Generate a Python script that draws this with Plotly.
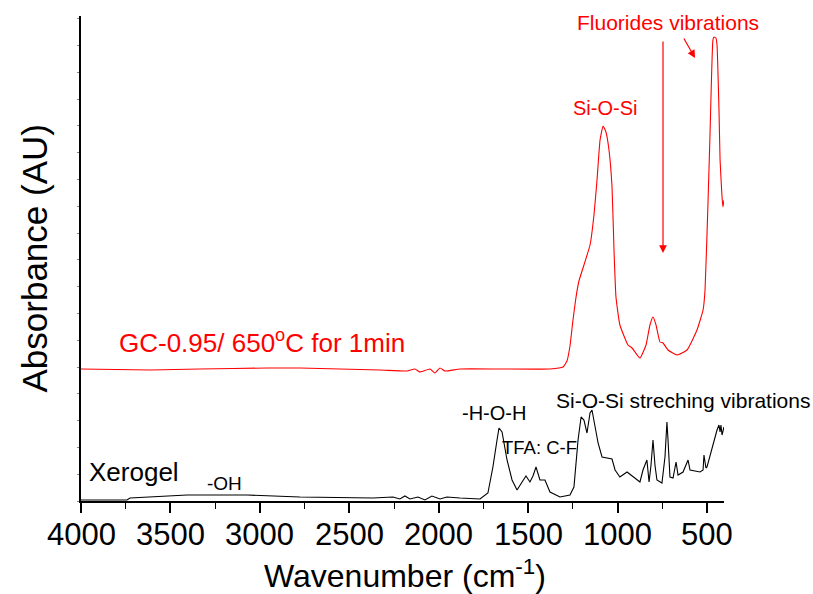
import plotly.graph_objects as go

# Red spectrum: GC-0.95 / 650C for 1min
red_wn = [4000, 3614, 3335, 2960, 2776, 2328, 2177, 2133, 2105, 2049, 2021, 1993, 1965, 1881, 1657, 1378, 1305,
          1283, 1266, 1250, 1233, 1216, 1188, 1154, 1132, 1115, 1098, 1081, 1065, 1048, 1031, 1020, 1009, 987, 942,
          919, 875, 841, 819, 802, 785, 763, 746, 718, 668, 612, 556, 522, 511, 494, 483, 467, 461, 450, 444, 433,
          427, 416, 411, 405]
red_ab = [132, 131, 132, 133, 133, 131, 130, 132, 129, 132, 128, 133, 130, 132, 132, 132, 134,
          140, 155, 180, 203, 220, 236, 256, 286, 321, 361, 375, 369, 351, 314, 251, 204, 176, 156,
          153, 143, 156, 176, 184, 176, 159, 158, 151, 146, 151, 171, 191, 211, 301, 368, 461, 464, 463, 456, 391,
          341, 304, 294, 301]

# Black spectrum: Xerogel
blk_wn = [4000, 3743, 3726, 3407, 3072, 2776, 2367, 2256, 2217, 2189, 2161, 2116, 2077, 2038, 1993, 1954, 1881,
          1769, 1725, 1713, 1697, 1674, 1663, 1646, 1618, 1590, 1562, 1534, 1512, 1490, 1473, 1456, 1434, 1406,
          1378, 1322, 1266, 1244, 1221, 1204, 1188, 1171, 1154, 1143, 1126, 1109, 1087, 1031, 1014, 987, 947, 914,
          875, 858, 836, 824, 813, 802, 791, 780, 752, 735, 724, 718, 707, 690, 673, 662, 634, 606, 595, 539, 522,
          517, 506, 500, 472, 444, 433, 427, 422, 416, 405]
blk_ab = [1, 1, 3, 6, 6, 4, 3, 4, 2, 5, 2, 4, 1, 5, 2, 4, 3,
          2, 8, 18, 34, 61, 73, 69, 41, 21, 11, 19, 25, 19, 25, 34, 21, 21,
          9, 4, 6, 14, 61, 84, 81, 68, 88, 91, 74, 58, 44, 42, 31, 24, 29, 24,
          19, 31, 41, 19, 36, 61, 36, 21, 18, 44, 79, 61, 24, 23, 39, 26, 29, 41, 31, 29, 31,
          46, 33, 34, 54, 71, 76, 69, 76, 66, 74]

x_ticks = [4000, 3500, 3000, 2500, 2000, 1500, 1000, 500]

FONT = "Arial, Liberation Sans, sans-serif"
RED = "#ff0000"

fig = go.Figure()
fig.add_trace(go.Scatter(x=red_wn, y=red_ab, mode="lines", line=dict(color=RED, width=1.1, shape="spline", smoothing=0.4),
                         showlegend=False))
fig.add_trace(go.Scatter(x=blk_wn, y=blk_ab, mode="lines", line=dict(color="black", width=1.1), showlegend=False))

annots = [
    dict(x=3799, y=160, text="GC-0.95/ 650<sup>o</sup>C for 1min", xanchor="left", font=dict(size=26, color=RED)),
    dict(x=1070, y=393, text="Si-O-Si", font=dict(size=20, color=RED)),
    dict(x=718, y=479, text="Fluorides vibrations", font=dict(size=21, color=RED)),
    dict(x=634, y=101, text="Si-O-Si streching vibrations", font=dict(size=21, color="black")),
    dict(x=1691, y=88, text="-H-O-H", font=dict(size=20, color="black")),
    dict(x=1434, y=54, text="TFA: C-F", font=dict(size=18.5, color="black")),
    dict(x=3966, y=29, text="Xerogel", xanchor="left", font=dict(size=26, color="black")),
    dict(x=3200, y=18, text="-OH", font=dict(size=19, color="black")),
]
for a in annots:
    a.update(xref="x", yref="y", showarrow=False, yanchor="middle", font=dict(family=FONT, **a["font"]))
    fig.add_annotation(**a)

# x tick labels placed precisely below the axis at the tick values
for v in x_ticks:
    fig.add_annotation(x=v, y=0, xref="x", yref="paper", yshift=-33, xanchor="center", yanchor="middle",
                       text=str(v), showarrow=False, font=dict(family=FONT, size=31, color="black"))

# arrows
fig.add_annotation(x=746, y=248, ax=746, ay=461, xref="x", yref="y", axref="x", ayref="y",
                   text="", showarrow=True, arrowhead=2, arrowsize=1.3, arrowwidth=1.2, arrowcolor=RED)
fig.add_annotation(x=567, y=443, ax=634, ay=464, xref="x", yref="y", axref="x", ayref="y",
                   text="", showarrow=True, arrowhead=2, arrowsize=1.3, arrowwidth=1.2, arrowcolor=RED)

# axis titles
fig.add_annotation(x=0, y=0.5, xref="paper", yref="paper", xshift=-47, xanchor="center", yanchor="middle",
                   textangle=-90, text="Absorbance (AU)", showarrow=False,
                   font=dict(family=FONT, size=35, color="black"))
fig.add_annotation(x=0.504, y=0, xref="paper", yref="paper", yshift=-73, xanchor="center", yanchor="middle",
                   text="Wavenumber (cm<sup>-1</sup>)", showarrow=False,
                   font=dict(family=FONT, size=32, color="black"))

fig.update_layout(
    width=813, height=594,
    margin=dict(l=81, r=89, t=16, b=93),
    paper_bgcolor="white", plot_bgcolor="white",
    font=dict(family=FONT, color="black"),
    xaxis=dict(range=[4000, 405], tickvals=x_ticks, showticklabels=False,
               ticks="outside", ticklen=10, tickwidth=1.5, tickcolor="black",
               minor=dict(dtick=250, tick0=0, ticks="outside", ticklen=6, tickwidth=1.3, tickcolor="black"),
               showline=True, linecolor="black", linewidth=1.8, showgrid=False, zeroline=False),
    yaxis=dict(range=[0, 485], tick0=0, dtick=26.8, ticks="outside", ticklen=2, tickwidth=1, tickcolor="#888",
               showticklabels=False, showline=True, linecolor="black", linewidth=1.8,
               showgrid=False, zeroline=False),
)

fig.write_html("out.html")
